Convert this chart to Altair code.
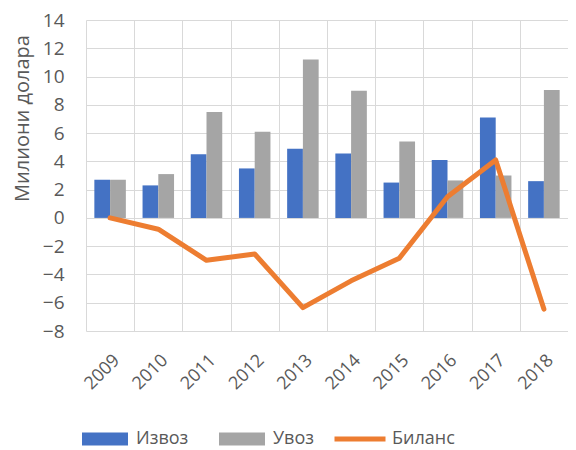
import altair as alt
import pandas as pd

years = ["2009", "2010", "2011", "2012", "2013", "2014", "2015", "2016", "2017", "2018"]
izvoz = [2.7, 2.3, 4.5, 3.5, 4.9, 4.55, 2.5, 4.1, 7.1, 2.6]
uvoz = [2.7, 3.1, 7.5, 6.1, 11.2, 9.0, 5.4, 2.65, 3.0, 9.05]
bilans = [0.0, -0.8, -3.0, -2.55, -6.35, -4.45, -2.85, 1.5, 4.1, -6.45]
bar_series = ["Извоз", "Увоз"]
line_series = ["Биланс"]

FONT = "Open Sans"
TXT = "#595959"
GRID = "#D9D9D9"

rows = []
for y, a, b in zip(years, izvoz, uvoz):
    rows.append({"year": y, "series": bar_series[0], "value": a})
    rows.append({"year": y, "series": bar_series[1], "value": b})
bars_df = pd.DataFrame(rows)
line_df = pd.DataFrame({"year": years, "series": line_series[0], "value": bilans})

x_axis = alt.Axis(
    title=None, tickBand="extent", grid=True, gridColor=GRID, gridWidth=1,
    ticks=False, domain=False, labelAngle=-45, labelFontSize=18, labelFont=FONT,
    labelColor=TXT, labelPadding=20,
)
x_enc = alt.X("year:N", sort=years, scale=alt.Scale(paddingInner=0, paddingOuter=0), axis=x_axis)

y_scale = alt.Scale(domain=[-8, 14], nice=False)
y_axis = alt.Axis(
    title="Милиони долара", values=list(range(-8, 15, 2)), grid=True, gridColor=GRID,
    gridWidth=1, ticks=False, domain=False, labelFontSize=19, labelFont=FONT,
    labelColor=TXT, labelPadding=22, titleFontSize=20, titleFont=FONT, titleColor=TXT,
    titleFontWeight="normal", titleX=-64, titleY=98, titleAngle=-90,
    titleAlign="center", titleBaseline="middle",
)

bars = alt.Chart(bars_df).mark_bar().encode(
    x=x_enc,
    xOffset=alt.XOffset("series:N", sort=bar_series,
                        scale=alt.Scale(domain=bar_series, paddingOuter=0.53, paddingInner=0)),
    y=alt.Y("value:Q", scale=y_scale, axis=y_axis),
    color=alt.Color("series:N", scale=alt.Scale(domain=bar_series, range=["#4472C4", "#A5A5A5"]),
                    legend=alt.Legend(
                        orient="none", legendX=-4, legendY=396, direction="horizontal",
                        title=None, symbolType="M-1,-0.28L1,-0.28L1,0.28L-1,0.28Z",
                        symbolSize=2116, symbolStrokeWidth=0, labelFontSize=18,
                        labelFont=FONT, labelColor=TXT, columnPadding=30, labelOffset=8,
                    )),
)

line = alt.Chart(line_df).mark_line(strokeWidth=5, strokeCap="round", strokeJoin="round").encode(
    x=x_enc,
    y=alt.Y("value:Q", scale=y_scale, axis=y_axis),
    stroke=alt.Stroke("series:N", scale=alt.Scale(domain=line_series, range=["#ED7D31"]),
                      legend=alt.Legend(
                          orient="none", legendX=246, legendY=391, direction="horizontal",
                          title=None, symbolType="stroke", symbolSize=2601,
                          symbolStrokeWidth=5, labelFontSize=18, labelFont=FONT,
                          labelColor=TXT, labelOffset=4,
                      )),
)

chart = alt.layer(bars, line).properties(
    width=482, height=311,
    autosize=alt.AutoSizeParams(type="none"),
    padding={"left": 78, "top": 12, "right": 0, "bottom": 122},
).configure_view(stroke=None)

chart.save("out.html", embed_options={"renderer": "svg", "actions": False})
